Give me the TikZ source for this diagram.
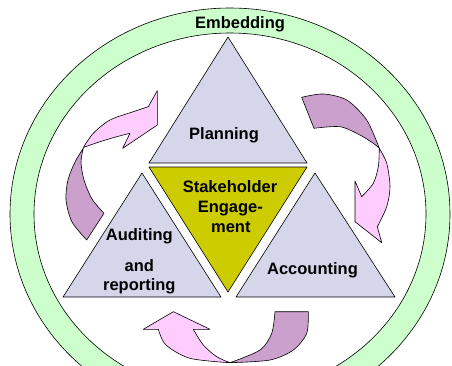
\documentclass[tikz,border=0pt]{standalone}
\usepackage{fontspec}
\setmainfont{Liberation Sans}
\definecolor{ringFill}{RGB}{204,255,204}
\definecolor{triFill}{RGB}{214,214,234}
\definecolor{coreFill}{RGB}{204,204,0}
\definecolor{pinkFill}{RGB}{255,204,255}
\definecolor{purpFill}{RGB}{204,160,204}
\begin{document}
\begin{tikzpicture}[x=1pt,y=-1pt,line width=0.6pt,line join=round,
  lbl/.style={font=\fontsize{16.5}{20}\selectfont\bfseries,inner sep=0pt,anchor=base},
  tri/.style={fill=triFill,draw=black},
  core/.style={fill=coreFill,draw=black},
  pinkpart/.style={fill=pinkFill,draw=black},
  purppart/.style={fill=purpFill,draw=black}]
\useasboundingbox (0,0) rectangle (452,365);
% embedding ring
\begin{scope}
\clip (0,0) rectangle (452,365);
\fill[ringFill,even odd rule] (230,214) ellipse [x radius=220,y radius=206]
  (230,214) ellipse [x radius=196,y radius=181];
\draw (230,214) ellipse [x radius=220,y radius=206];
\draw (230,214) ellipse [x radius=196,y radius=181];
\end{scope}
% left arrow
\filldraw[purppart] (83.3,148.3) -- plot[smooth] coordinates {(83.3,148.3) (75,162) (68,180) (66,200) (72,222) (86.7,240)}
  -- (104,213.3) -- plot[smooth] coordinates {(104,213.3) (92,199) (84,180) (81,162) (83.3,148.3)} -- cycle;
\filldraw[pinkpart] (83.3,147.5) -- plot[smooth] coordinates {(83.3,147.5) (93.3,133.3) (110,120) (133.3,111.7) (148.3,106.7)}
  -- (157.3,90.7) -- (157.3,125) -- (122.7,148.3) -- (130,133.3)
  -- plot[smooth] coordinates {(130,133.3) (116.7,136.7) (100,141.7) (83.3,147.5)} -- cycle;
% right arrow
\filldraw[purppart] (301.7,97.3) -- plot[smooth] coordinates {(301.7,97.3) (323.3,94) (346.7,100) (366.7,120) (379.3,148.3)}
  -- plot[smooth] coordinates {(379.3,148.3) (373.3,143.3) (360,135) (340,126.7) (314,128.3)} -- cycle;
\filldraw[pinkpart] (379.3,148.3) -- plot[smooth] coordinates {(379.3,148.3) (386.7,163.3) (390,186.7) (386.7,206.7) (377.3,226.7)}
  -- (381.7,242.7) -- (355,221.7) -- (355,181) -- (361.7,196.7)
  -- plot[smooth] coordinates {(361.7,196.7) (373.3,183.3) (378.3,166.7) (379.3,148.3)} -- cycle;
% bottom arrow
\filldraw[purppart] (308.3,311.7) -- plot[smooth] coordinates {(308.3,311.7) (306.7,333.3) (293.3,350) (270,360) (230,362.7)}
  -- plot[smooth] coordinates {(230,362.7) (260,350) (271.7,333.3) (275,311.7)} -- cycle;
\filldraw[pinkpart] (230,362.7) -- plot[smooth] coordinates {(230,362.7) (190,358.3) (166,345) (158.3,329.3)}
  -- (143.3,329.3) -- (173.3,311.7) -- (210,329.3) -- (193.3,329.3)
  -- plot[smooth] coordinates {(193.3,329.3) (203.3,345) (216.7,356.7) (230,362.7)} -- cycle;
% triangles
\filldraw[tri] (228,37) -- (307,163) -- (149,163) -- cycle;
\filldraw[core] (149,167) -- (307,167) -- (228,292) -- cycle;
\filldraw[tri] (142,173) -- (221,297) -- (63,297) -- cycle;
\filldraw[tri] (315,173) -- (395,297) -- (236,297) -- cycle;
% labels
\node[lbl] (emb) at (240,28.3) {Embedding};
\node[lbl] (plan) at (224,139.3) {Planning};
\node[lbl] (se1) at (230,192.3) {Stakeholder};
\node[lbl] (se2) at (230.3,212.5) {Engage-};
\node[lbl] (se3) at (230.8,232.7) {ment};
\node[lbl] (aud1) at (139.3,240) {Auditing};
\node[lbl] (aud2) at (139.3,271) {and};
\node[lbl] (aud3) at (139.3,290) {reporting};
\node[lbl] (acc) at (312.5,274.3) {Accounting};
\end{tikzpicture}
\end{document}
